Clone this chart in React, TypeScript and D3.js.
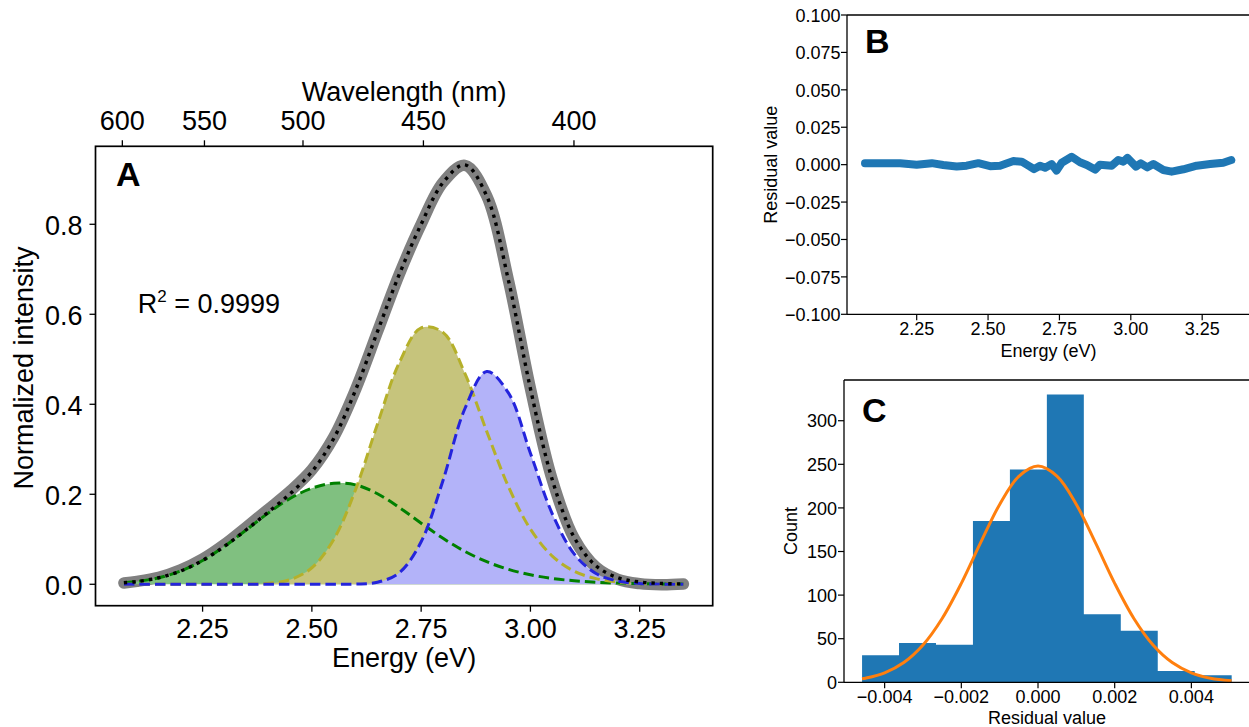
import React from "react";
import * as d3 from "d3";

// ---------------- Panel A : spectrum decomposition ----------------
const energies = [2.07, 2.1, 2.15, 2.2, 2.25, 2.3, 2.35, 2.4, 2.45, 2.5, 2.55, 2.6, 2.65, 2.7, 2.75, 2.8, 2.85, 2.9, 2.95, 3.0, 3.05, 3.1, 3.15, 3.2, 3.25, 3.3, 3.35];
const measuredIntensity = [0.003, 0.0065, 0.0155, 0.032, 0.056, 0.0885, 0.127, 0.1665, 0.2065, 0.2545, 0.327, 0.433, 0.561, 0.689, 0.8, 0.893, 0.931, 0.863, 0.674, 0.435, 0.232, 0.102, 0.038, 0.011, 0.0015, -0.001, 0.0005];
const greenComponent = [0.0034, 0.0061, 0.0145, 0.0296, 0.0529, 0.0843, 0.1209, 0.1581, 0.1906, 0.2135, 0.2243, 0.2209, 0.2012, 0.1706, 0.1358, 0.1022, 0.0731, 0.0501, 0.033, 0.021, 0.0129, 0.0078, 0.0045, 0.0026, 0.0015, 0.0008, 0.0004];
const yellowComponent = [0, 0, 0, 0, 0, 0, 0.0003, 0.0021, 0.0103, 0.0367, 0.0997, 0.2104, 0.3558, 0.4924, 0.5698, 0.5598, 0.4688, 0.3398, 0.2163, 0.1226, 0.0627, 0.0291, 0.0125, 0.005, 0.0018, 0.0006, 0.0002];
const blueComponent = [0, 0, 0, 0, 0, 0, 0, 0, 0, 0, 0, 0.0005, 0.0044, 0.0257, 0.0945, 0.2307, 0.3901, 0.4729, 0.4248, 0.2913, 0.1567, 0.0676, 0.0239, 0.0071, 0.0018, 0.0004, 0.0001];
const energyTicks = [2.25, 2.5, 2.75, 3.0, 3.25];
const wavelengthTicks = [600, 550, 500, 450, 400];
const intensityTicks = [0, 0.2, 0.4, 0.6, 0.8];
const rSquaredText = "0.9999";

// ---------------- Panel B : residuals ----------------
const residualEnergies = [2.069, 2.133, 2.192, 2.25, 2.303, 2.343, 2.39, 2.425, 2.466, 2.507, 2.542, 2.589, 2.618, 2.647, 2.661, 2.682, 2.7, 2.723, 2.74, 2.758, 2.793, 2.822, 2.846, 2.875, 2.892, 2.933, 2.956, 2.974, 2.988, 3.018, 3.035, 3.058, 3.079, 3.114, 3.143, 3.184, 3.231, 3.278, 3.324, 3.352];
const residualValues = [0.0009, 0.001, 0.0009, 0.0, 0.001, -0.0002, -0.0013, -0.0007, 0.001, -0.001, -0.0007, 0.0024, 0.002, -0.0013, -0.003, -0.0007, -0.002, 0.0004, -0.004, 0.0013, 0.0053, 0.0016, -0.0002, -0.0033, 0.0, -0.0007, 0.0031, 0.002, 0.0045, -0.0013, 0.0009, -0.0018, 0.0004, -0.0036, -0.0047, -0.0031, -0.0007, 0.0004, 0.0013, 0.0031];
const residualTicks = [0.1, 0.075, 0.05, 0.025, 0, -0.025, -0.05, -0.075, -0.1];
const residualTickLabels = ["0.100", "0.075", "0.050", "0.025", "0.000", "\u22120.025", "\u22120.050", "\u22120.075", "\u22120.100"];

// ---------------- Panel C : residual histogram ----------------
const histogramEdges = [-0.004589, -0.003625, -0.002661, -0.001697, -0.000733, 0.000231, 0.001195, 0.002159, 0.003123, 0.004087, 0.005051];
const histogramCounts = [31, 45, 43, 185, 244, 330, 78, 59, 13, 8];
const normalFitX = [-0.00459, -0.0045, -0.004, -0.0035, -0.003, -0.0025, -0.002, -0.0015, -0.001, -0.0005, 0, 0.0005, 0.001, 0.0015, 0.002, 0.0025, 0.003, 0.0035, 0.004, 0.0045, 0.00505];
const normalFitCount = [4.0, 4.7, 10.9, 22.7, 42.8, 73.2, 113.5, 159.8, 204.0, 236.2, 248.0, 236.2, 204.0, 159.8, 113.5, 73.2, 42.8, 22.7, 10.9, 4.7, 1.7];
const countTicks = [0, 50, 100, 150, 200, 250, 300];
const histTicks = [-0.004, -0.002, 0, 0.002, 0.004];
const histTickLabels = ["\u22120.004", "\u22120.002", "0.000", "0.002", "0.004"];

const FONT = '"Liberation Sans", Arial, Helvetica, sans-serif';
const HC = 1239.84; // eV*nm

type P = [number, number];

export default function App() {
  // ---- Panel A scales
  const A = { l: 95.5, r: 712.7, t: 146.3, b: 605.7 };
  const ax = d3.scaleLinear().domain([2.005, 3.417]).range([A.l, A.r]);
  const ay = d3.scaleLinear().domain([-0.0476, 0.9733]).range([A.b, A.t]);
  const curve = d3.curveCatmullRom.alpha(0.5);
  const lineA = d3.line<P>().x((d) => ax(d[0])).y((d) => ay(d[1])).curve(curve);
  const areaA = d3
    .area<P>()
    .x((d) => ax(d[0]))
    .y0(ay(0))
    .y1((d) => ay(d[1]))
    .curve(curve);
  const series = (vals: number[]): P[] => energies.map((e, i) => [e, vals[i]]);
  const dataPts = series(measuredIntensity);
  const gPts = series(greenComponent);
  const yPts = series(yellowComponent);
  const bPts = series(blueComponent);
  const fitPts: P[] = energies.map((e, i) => [e, greenComponent[i] + yellowComponent[i] + blueComponent[i]]);

  // ---- Panel B scales
  const B = { l: 847, r: 1250, t: 15, b: 314.3 };
  const bx = d3.scaleLinear().domain([2.0059, 3.4175]).range([B.l, B.r]);
  const by = d3.scaleLinear().domain([-0.1, 0.1]).range([B.b, B.t]);
  const resLine = d3
    .line<P>()
    .x((d) => bx(d[0]))
    .y((d) => by(d[1]));
  const resPts: P[] = residualEnergies.map((e, i) => [e, residualValues[i]]);

  // ---- Panel C scales
  const C = { l: 844, r: 1250, t: 380, b: 682.3 };
  const cx = d3.scaleLinear().domain([-0.00506, 0.005529]).range([C.l, C.r]);
  const cy = d3.scaleLinear().domain([0, 346.7]).range([C.b, C.t]);
  const fitLine = d3
    .line<P>()
    .x((d) => cx(d[0]))
    .y((d) => cy(d[1]))
    .curve(d3.curveCatmullRom.alpha(0.5));
  const normPts: P[] = normalFitX.map((x, i) => [x, normalFitCount[i]]);
  // histogram outline as a single step polygon (no seams between bars)
  const histPath = d3.path();
  histPath.moveTo(cx(histogramEdges[0]), cy(0));
  histogramCounts.forEach((c, i) => {
    histPath.lineTo(cx(histogramEdges[i]), cy(c));
    histPath.lineTo(cx(histogramEdges[i + 1]), cy(c));
  });
  histPath.lineTo(cx(histogramEdges[histogramEdges.length - 1]), cy(0));
  histPath.closePath();

  const fmt2 = d3.format(".2f");
  const fmt1 = d3.format(".1f");

  return (
    <svg
      width={1249}
      height={727}
      style={{ position: "absolute", left: 0, top: 0, background: "#fff" }}
      fontFamily={FONT}
    >
      <rect x={0} y={0} width={1249} height={727} fill="#fff" />

      {/* ================= Panel A ================= */}
      <g>
        {/* measured data (thick gray) */}
        <path d={lineA(dataPts) || ""} fill="none" stroke="#808080" strokeWidth={11.5} strokeLinecap="round" strokeLinejoin="round" />
        {/* filled components */}
        <path d={areaA(gPts) || ""} fill="#80c080" stroke="none" />
        <path d={areaA(yPts) || ""} fill="#c6c47c" stroke="none" />
        <path d={areaA(bPts) || ""} fill="#b3b3f9" stroke="none" />
        {/* dashed component outlines */}
        <path d={lineA(gPts) || ""} fill="none" stroke="#008000" strokeWidth={3} strokeDasharray="10.5 5" />
        <path d={lineA(yPts) || ""} fill="none" stroke="#b5b02a" strokeWidth={3} strokeDasharray="10.5 5" />
        <path d={lineA(bPts) || ""} fill="none" stroke="#2424dc" strokeWidth={3} strokeDasharray="10.5 5" />
        {/* cumulative fit, dotted black */}
        <path d={lineA(fitPts) || ""} fill="none" stroke="#000" strokeWidth={3.4} strokeDasharray="3.4 5" />

        {/* frame */}
        <rect x={A.l} y={A.t} width={A.r - A.l} height={A.b - A.t} fill="none" stroke="#000" strokeWidth={1.7} />

        {/* bottom ticks */}
        {energyTicks.map((t) => (
          <g key={"ea" + t}>
            <line x1={ax(t)} x2={ax(t)} y1={A.b} y2={A.b + 6} stroke="#000" strokeWidth={1.3} />
            <text x={ax(t)} y={638.3} fontSize={27} textAnchor="middle">
              {fmt2(t)}
            </text>
          </g>
        ))}
        <text x={(A.l + A.r) / 2} y={667} fontSize={27} textAnchor="middle">
          Energy (eV)
        </text>

        {/* top wavelength ticks */}
        {wavelengthTicks.map((w) => (
          <g key={"wl" + w}>
            <line x1={ax(HC / w)} x2={ax(HC / w)} y1={A.t} y2={A.t - 6} stroke="#000" strokeWidth={1.3} />
            <text x={ax(HC / w)} y={130} fontSize={27} textAnchor="middle">
              {w}
            </text>
          </g>
        ))}
        <text x={(A.l + A.r) / 2} y={101} fontSize={27} textAnchor="middle">
          Wavelength (nm)
        </text>

        {/* left ticks */}
        {intensityTicks.map((v) => (
          <g key={"ia" + v}>
            <line x1={A.l - 6} x2={A.l} y1={ay(v)} y2={ay(v)} stroke="#000" strokeWidth={1.3} />
            <text x={82.5} y={ay(v) + 10.5} fontSize={27} textAnchor="end">
              {fmt1(v)}
            </text>
          </g>
        ))}
        <text transform={`translate(32.5,368) rotate(-90)`} fontSize={27} textAnchor="middle">
          Normalized intensity
        </text>

        <text x={116} y={186} fontSize={34} fontWeight="bold">
          A
        </text>
        <text x={137.7} y={313.3} fontSize={27}>
          <tspan>R</tspan>
          <tspan fontSize={17} dy={-11}>
            2
          </tspan>
          <tspan dy={11}>{" = " + rSquaredText}</tspan>
        </text>
      </g>

      {/* ================= Panel B ================= */}
      <g>
        <path d={resLine(resPts) || ""} fill="none" stroke="#1f77b4" strokeWidth={8} strokeLinecap="round" strokeLinejoin="round" />
        <line x1={B.l} x2={B.l} y1={B.t} y2={B.b} stroke="#000" strokeWidth={1.3} />
        <line x1={B.l} x2={B.r} y1={B.t} y2={B.t} stroke="#000" strokeWidth={1.3} />
        <line x1={B.l} x2={B.r} y1={B.b} y2={B.b} stroke="#000" strokeWidth={1.3} />
        <line x1={B.r} x2={B.r} y1={B.t} y2={B.b} stroke="#000" strokeWidth={1.3} />
        {residualTicks.map((v, i) => (
          <g key={"rb" + i}>
            <line x1={B.l - 6} x2={B.l} y1={by(v)} y2={by(v)} stroke="#000" strokeWidth={1.2} />
            <text x={840.5} y={by(v) + 6.8} fontSize={18} textAnchor="end">
              {residualTickLabels[i]}
            </text>
          </g>
        ))}
        {energyTicks.map((t) => (
          <g key={"eb" + t}>
            <line x1={bx(t)} x2={bx(t)} y1={B.b} y2={B.b + 6} stroke="#000" strokeWidth={1.2} />
            <text x={bx(t)} y={335} fontSize={18} textAnchor="middle">
              {fmt2(t)}
            </text>
          </g>
        ))}
        <text x={(B.l + B.r) / 2} y={356.5} fontSize={18} textAnchor="middle">
          Energy (eV)
        </text>
        <text transform={`translate(777,164.7) rotate(-90)`} fontSize={18} textAnchor="middle">
          Residual value
        </text>
        <text x={865} y={52.7} fontSize={34} fontWeight="bold">
          B
        </text>
      </g>

      {/* ================= Panel C ================= */}
      <g>
        <path d={histPath.toString()} fill="#1f77b4" stroke="none" />
        <path d={fitLine(normPts) || ""} fill="none" stroke="#ff7f0e" strokeWidth={3} />
        <line x1={C.l} x2={C.l} y1={C.t} y2={C.b} stroke="#000" strokeWidth={1.3} />
        <line x1={C.l} x2={C.r} y1={C.t} y2={C.t} stroke="#000" strokeWidth={1.3} />
        <line x1={C.l} x2={C.r} y1={C.b} y2={C.b} stroke="#000" strokeWidth={1.3} />
        {countTicks.map((v) => (
          <g key={"cc" + v}>
            <line x1={C.l - 6} x2={C.l} y1={cy(v)} y2={cy(v)} stroke="#000" strokeWidth={1.2} />
            <text x={837} y={cy(v) + 6.7} fontSize={18} textAnchor="end">
              {v}
            </text>
          </g>
        ))}
        {histTicks.map((t, i) => (
          <g key={"hx" + i}>
            <line x1={cx(t)} x2={cx(t)} y1={C.b} y2={C.b + 6} stroke="#000" strokeWidth={1.2} />
            <text x={cx(t)} y={703.3} fontSize={18} textAnchor="middle">
              {histTickLabels[i]}
            </text>
          </g>
        ))}
        <text x={(C.l + C.r) / 2} y={724} fontSize={18} textAnchor="middle">
          Residual value
        </text>
        <text transform={`translate(797,531) rotate(-90)`} fontSize={18} textAnchor="middle">
          Count
        </text>
        <text x={862} y={422.3} fontSize={34} fontWeight="bold">
          C
        </text>
      </g>
    </svg>
  );
}
